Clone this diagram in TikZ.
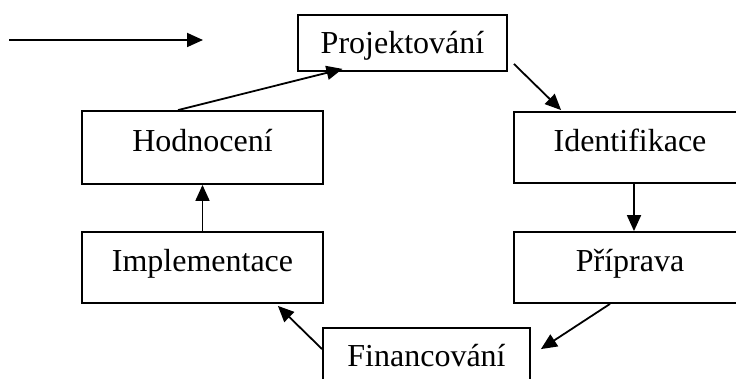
\documentclass[tikz,border=0pt]{standalone}
\usepackage{fontspec}
\setmainfont{Liberation Serif}
\usetikzlibrary{arrows.meta,calc}
\begin{document}
\begin{tikzpicture}[x=1pt,y=-1pt,
  box/.style={draw, line width=1.8pt, inner sep=0pt, text height=22pt, text depth=13pt,
    font=\fontsize{32}{38}\selectfont},
  conn/.style={line width=1.8pt, -{Triangle[length=16pt,width=14pt]}}]
\useasboundingbox (0,0) rectangle (736,379);
\clip (0,0) rectangle (736,379);
\node[box, minimum width=209pt, minimum height=56pt, text depth=0pt] (proj) at (402.5,43) {Projektování};
\node[box, minimum width=241pt, minimum height=73pt] (hod) at (202.5,147.5) {Hodnocení};
\node[box, minimum width=232pt, minimum height=71pt] (ident) at (630,147.5) {Identifikace};
\node[box, minimum width=241pt, minimum height=71pt] (impl) at (202.5,267.5) {Implementace};
\node[box, minimum width=232pt, minimum height=71pt] (prip) at (630,267.5) {Příprava};
\node[box, minimum width=207pt, minimum height=56pt, text depth=2pt] (fin) at (426.5,356) {Financování};
\coordinate (a1) at (9,40);
\coordinate (a2) at (203,40);
\draw[conn] (a1) -- (a2);
\draw[conn] ($(hod.north)+(-24.5,0)$) -- ($(proj.south)+(-60,-3)$);
\draw[conn] ($(proj.south east)+(6,-8)$) -- ($(ident.north west)+(48,-1)$);
\draw[conn] ($(ident.south)+(4,0)$) -- ($(prip.north)+(4,0)$);
\draw[conn] ($(prip.south)+(-20,0)$) -- ($(fin.north east)+(10,22)$);
\draw[conn] ($(fin.north west)+(0,22)$) -- ($(impl.south east)+(-46,2)$);
\draw[conn] (impl.north) -- (hod.south);
\end{tikzpicture}
\end{document}
